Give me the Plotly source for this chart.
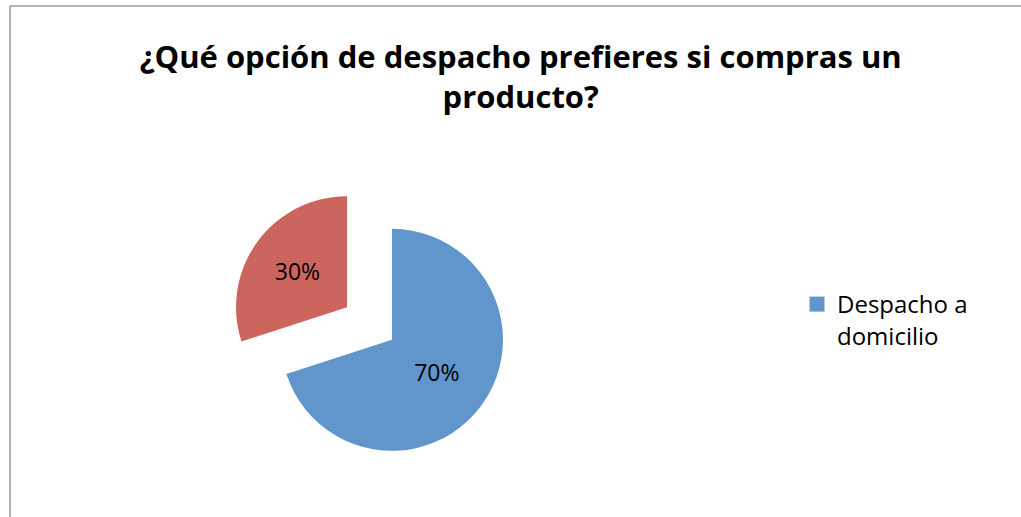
import plotly.graph_objects as go

labels = ["Despacho a domicilio", "Retiro en tienda"]
values = [70, 30]
colors = ["#6096CB", "#CC655E"]
legend_label = "Despacho a<br>domicilio"
title_text = "¿Qué opción de despacho prefieres si compras un<br>producto?"

W, H = 1021, 517
FONT = "Open Sans"

# pie placement (pixels)
cx, cy, half = 369.5, 323.5, 138.75

fig = go.Figure()
fig.add_trace(go.Pie(
    labels=labels, values=values, sort=False, direction="clockwise", rotation=0,
    marker=dict(colors=colors, line=dict(width=0)),
    pull=[0.25, 0.25],
    textinfo="percent", texttemplate="%{percent:.0%}",
    textposition="inside", insidetextorientation="horizontal",
    textfont=dict(family=FONT, size=23, color="black"),
    domain=dict(x=[(cx - half) / W, (cx + half) / W], y=[1 - (cy + half) / H, 1 - (cy - half) / H]),
    showlegend=False, hoverinfo="label+percent",
))
fig.add_trace(go.Scatter(
    x=[None], y=[None], mode="markers", name=legend_label,
    marker=dict(symbol="square", size=15, color=colors[0]),
    showlegend=True,
))

fig.update_layout(
    width=W, height=H,
    margin=dict(l=0, r=0, t=0, b=0),
    paper_bgcolor="white", plot_bgcolor="white",
    xaxis=dict(visible=False), yaxis=dict(visible=False),
    title=dict(text=title_text, x=0.51, xanchor="center", y=1 - 68 / H, yanchor="top",
               font=dict(family=FONT, size=31, color="black", weight="bold")),
    legend=dict(x=797 / W, xanchor="left", y=1 - 282 / H, yanchor="top", valign="top",
                font=dict(family=FONT, size=24, color="black"), bgcolor="rgba(0,0,0,0)"),
    shapes=[
        dict(type="line", xref="paper", yref="paper", x0=10 / W, x1=1.0, y0=1 - 6 / H, y1=1 - 6 / H,
             line=dict(color="#9a9a9a", width=1.5)),
        dict(type="line", xref="paper", yref="paper", x0=10 / W, x1=10 / W, y0=0, y1=1 - 6 / H,
             line=dict(color="#9a9a9a", width=1.5)),
    ],
)

fig.write_html("out.html")
